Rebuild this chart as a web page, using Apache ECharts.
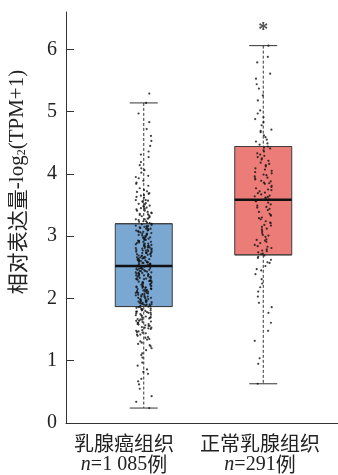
<!DOCTYPE html>
<html>
<head>
<meta charset="utf-8">
<script src="https://cdn.jsdelivr.net/npm/echarts@6/dist/echarts.min.js"></script>
<style>
  html, body { margin: 0; padding: 0; background: #fff; }
  #chart { width: 338px; height: 475px; }
</style>
</head>
<body>
<div id="chart"></div>
<script>
const categories = ['乳腺癌组织', '正常乳腺组织'];
const sampleSizes = ['1 085', '291'];
const yTicks = [0, 1, 2, 3, 4, 5, 6];
// [min, Q1, median, Q3, max]
const tumorBox = [0.24, 1.87, 2.52, 3.2, 5.14];
const normalBox = [0.63, 2.70, 3.585, 4.44, 6.06];
const sigLabel = '*';
const sigValue = 6.3;

// (a sample of them)
const tumorPoints = [
  2.41, 1.96, 3.05, 2.73, 1.52, 2.18, 3.44, 2.66, 1.88, 2.97,
  0.24, 2.35, 3.12, 1.73, 2.58, 4.02, 2.21, 1.64, 2.84, 3.31,
  2.49, 1.37, 2.12, 3.68, 2.77, 1.91, 2.63, 0.86, 3.19, 2.04,
  2.52, 4.61, 1.79, 2.94, 2.27, 3.57, 1.45, 2.69, 3.02, 2.15,
  1.12, 2.38, 3.86, 2.81, 1.98, 2.55, 3.24, 1.68, 2.46, 5.14,
  2.09, 3.11, 1.83, 2.72, 0.62, 2.31, 3.49, 2.6, 1.57, 2.89,
  4.27, 2.19, 1.94, 3.08, 2.43, 1.29, 2.67, 3.36, 2.01, 2.78,
  1.71, 3.93, 2.53, 2.24, 1.47, 3.16, 2.86, 0.97, 2.39, 3.63,
  2.11, 1.86, 2.98, 2.57, 4.83, 1.61, 2.32, 3.27, 2.7, 2.05,
  1.23, 2.48, 3.74, 2.82, 1.92, 2.61, 3.41, 1.77, 2.26, 0.43,
  2.93, 3.14, 1.54, 2.45, 4.14, 2.16, 2.75, 1.89, 3.52, 2.36,
  1.05, 2.64, 3.03, 2.2, 1.66, 3.81, 2.51, 2.88, 1.99, 4.45,
  2.13, 3.33, 1.4, 2.74, 2.42, 3.09, 0.71, 1.81, 2.59, 3.47,
  2.28, 1.95, 2.83, 3.71, 1.59, 2.47, 3.2, 2.06, 1.34, 2.68,
  4.06, 2.33, 2.91, 1.76, 3.58, 2.54, 0.79, 2.17, 3.26, 1.9,
  2.79, 1.49, 3.97, 2.4, 2.02, 3.13, 1.69, 2.65, 5.29, 2.3,
  1.17, 2.87, 3.39, 2.22, 1.84, 2.56, 3.66, 1.56, 2.44, 3.0,
  2.1, 4.36, 1.93, 2.76, 1.27, 3.22, 2.5, 2.95, 0.55, 1.74,
  2.37, 3.53, 2.62, 2.08, 1.62, 3.07, 4.72, 2.25, 2.8, 1.87,
  3.43, 2.14, 1.42, 2.71, 3.89, 2.46, 0.92, 1.97, 3.17, 2.58,
  2.03, 1.51, 2.9, 3.62, 2.34, 4.19, 1.8, 2.66, 3.29, 2.19,
  1.2, 2.52, 3.04, 1.72, 2.85, 3.77, 2.29, 0.34, 1.96, 2.6,
  3.35, 2.07, 1.58, 2.73, 4.53, 2.41, 3.1, 1.85, 2.97, 1.31,
  2.23, 3.48, 2.63, 1.67, 2.12, 3.95, 2.78, 1.09, 2.35, 3.23,
  1.9, 2.55, 4.31, 2.0, 1.46, 2.84, 3.55, 2.27, 0.67, 1.78,
  2.69, 3.15, 2.44, 1.63, 3.84, 2.18, 2.92, 1.38, 2.57, 4.97,
  2.09, 3.38, 1.82, 2.76, 2.31, 1.53, 3.06, 2.49, 0.82, 3.69,
  2.15, 1.94, 2.81, 3.28, 4.09, 1.7, 2.38, 2.65, 1.25, 3.45,
  2.44, 1.79, 2.96, 2.21, 3.18, 1.61, 2.58, 3.32, 2.07, 1.93,
  2.68, 3.09, 1.44, 2.36, 2.82, 3.56, 1.86, 2.13, 2.74, 3.01,
  1.99, 2.47, 3.41, 1.66, 2.29, 2.91, 1.35, 2.62, 3.24, 2.05,
  2.53, 1.73, 3.12, 2.39, 2.87, 1.9, 3.65, 2.17, 2.71, 1.56,
  2.26, 3.37, 2.01, 2.59, 1.81, 2.94, 3.14, 2.33, 1.48, 2.77,
  3.02, 2.11, 2.64, 1.95, 3.46, 2.42, 1.69, 2.85, 2.19, 3.27,
  1.88, 2.56, 3.07, 2.28, 1.59, 2.73, 3.58, 2.03, 2.48, 1.77,
  2.92, 2.37, 3.21, 1.97, 2.66, 1.42, 3.11, 2.24, 2.8, 2.09,
  3.72, 1.83, 2.51, 3.34, 2.16, 1.64, 2.99, 2.4, 3.16, 1.91,
  2.61, 2.14, 1.53, 3.04, 2.88, 2.32, 3.51, 1.75, 2.55, 2.98
];
const normalPoints = [
  3.58, 4.12, 2.86, 3.94, 4.67, 3.21, 2.74, 4.38, 3.65, 5.02,
  2.93, 3.77, 4.21, 3.08, 1.86, 3.49, 4.55, 2.71, 3.86, 5.37,
  3.33, 4.03, 2.52, 3.69, 4.44, 3.15, 0.63, 3.98, 2.81, 4.78,
  3.54, 2.39, 4.29, 3.72, 5.61, 3.02, 4.16, 2.94, 3.61, 1.32,
  4.49, 3.27, 3.88, 2.67, 4.91, 3.44, 2.18, 4.07, 3.56, 6.06,
  2.77, 3.81, 4.33, 3.12, 2.45, 4.62, 3.39, 1.61, 3.91, 2.99,
  5.18, 3.63, 4.25, 2.84, 3.47, 4.71, 2.31, 3.75, 4.09, 3.18,
  1.04, 4.41, 2.72, 3.59, 5.44, 3.24, 3.96, 2.58, 4.18, 3.51,
  2.11, 4.83, 3.36, 2.89, 3.84, 4.52, 1.77, 3.05, 4.01, 5.79,
  2.76, 3.67, 4.36, 3.29, 2.62, 3.93, 4.59, 2.03, 3.42, 3.11,
  4.97, 2.95, 3.79, 4.23, 1.48, 3.57, 2.69, 4.47, 3.22, 5.26,
  3.85, 2.47, 4.14, 3.64, 2.83, 4.69, 3.34, 0.95, 3.99, 2.57,
  4.31, 3.7, 5.53, 3.01, 2.24, 4.05, 3.46, 2.79, 3.89, 4.42,
  1.93, 3.17, 4.88, 3.62, 2.65, 5.88, 3.3, 4.27, 2.91, 3.74
];
// horizontal jitter of the dots, as a share of the spread
const jitter = [
  -0.62, 0.35, 0.91, -0.18, 0.54, -0.87, 0.12, -0.41, 0.77, -0.05,
  0.66, -0.73, 0.28, -0.95, 0.47, -0.29, 0.83, -0.56, 0.03, 0.71,
  -0.34, 0.19, -0.81, 0.58, -0.12, 0.94, -0.67, 0.39, -0.23, 0.08,
  -0.48, 0.86, -0.9, 0.24, -0.6, 0.51, -0.15
];

const boxColors = ['#7ba7d3', '#ec7c78'];
const serif = 'Liberation Serif';
const cjk = 'Noto Sans CJK SC';

const chart = echarts.init(document.getElementById('chart'), null, { renderer: 'canvas' });

const boxes = [tumorBox, normalBox];
const dots = [
  ...tumorPoints.map((v, i) => [0 + jitter[i % jitter.length] * 0.07, v]),
  ...normalPoints.map((v, i) => [1 + jitter[(i + 11) % jitter.length] * 0.075, v])
];

const option = {
  animation: false,
  grid: [
    { left: 66, right: 0, top: 12, bottom: 52 },   // axes
    { left: 84, right: 15, top: 12, bottom: 52 }   // boxes and dots
  ],
  xAxis: [
    {
      gridIndex: 0,
      type: 'category',
      data: categories,
      axisLine: { lineStyle: { color: '#333', width: 1 } },
      axisTick: { show: false },
      axisLabel: {
        interval: 0,
        margin: 10,
        padding: [0, 20, 0, 0],
        color: '#222',
        formatter: function (v, i) {
          return '{a|' + v + '}\n{n|n}{m|=' + sampleSizes[i] + '}{a|例}';
        },
        rich: {
          a: { fontFamily: cjk, fontSize: 20, lineHeight: 21, color: '#222' },
          n: { fontFamily: serif, fontStyle: 'italic', fontSize: 20, lineHeight: 21, color: '#222' },
          m: { fontFamily: serif, fontSize: 20, lineHeight: 21, color: '#222' }
        }
      }
    },
    { gridIndex: 1, type: 'category', data: categories, show: false },
    { gridIndex: 1, type: 'value', min: -0.5, max: 1.5, show: false }
  ],
  yAxis: [
    {
      gridIndex: 0,
      type: 'value',
      min: 0,
      max: 6.6,
      interval: 1,
      splitLine: { show: false },
      axisLine: { show: true, lineStyle: { color: '#333', width: 1 } },
      axisTick: { show: true, inside: true, length: 8, customValues: yTicks, lineStyle: { color: '#333' } },
      axisLabel: {
        customValues: yTicks,
        margin: 9,
        fontFamily: serif,
        fontSize: 20,
        color: '#222'
      }
    },
    { gridIndex: 1, type: 'value', min: 0, max: 6.6, show: false }
  ],
  graphic: [
    {
      type: 'text',
      x: 17,
      y: 182,
      rotation: Math.PI / 2,
      style: {
        text: '{a|相对表达量}{b|-log}{s|2}{b|(TPM+1)}',
        align: 'center',
        verticalAlign: 'middle',
        rich: {
          a: { fontFamily: cjk, fontSize: 21, fill: '#222' },
          b: { fontFamily: serif, fontSize: 21, fill: '#222' },
          s: { fontFamily: serif, fontSize: 12, fill: '#222', padding: [10, 0, 0, 0] }
        }
      }
    }
  ],
  series: [
    {
      // whiskers and caps
      type: 'custom',
      xAxisIndex: 1,
      yAxisIndex: 1,
      z: 1,
      silent: true,
      data: boxes.map((b, i) => [i, ...b]),
      encode: { x: 0, y: [1, 2, 3, 4, 5] },
      renderItem: function (params, api) {
        const c = api.value(0);
        const lo = api.coord([c, api.value(1)]);
        const q1 = api.coord([c, api.value(2)]);
        const q3 = api.coord([c, api.value(4)]);
        const hi = api.coord([c, api.value(5)]);
        const half = 14;
        const dash = { stroke: '#333', lineWidth: 1, lineDash: [3, 2] };
        const solid = { stroke: '#333', lineWidth: 1 };
        return {
          type: 'group',
          children: [
            { type: 'line', shape: { x1: hi[0], y1: hi[1], x2: q3[0], y2: q3[1] }, style: dash },
            { type: 'line', shape: { x1: q1[0], y1: q1[1], x2: lo[0], y2: lo[1] }, style: dash },
            { type: 'line', shape: { x1: hi[0] - half, y1: hi[1], x2: hi[0] + half, y2: hi[1] }, style: solid },
            { type: 'line', shape: { x1: lo[0] - half, y1: lo[1], x2: lo[0] + half, y2: lo[1] }, style: solid }
          ]
        };
      }
    },
    {
      // boxes Q1..Q3
      type: 'boxplot',
      xAxisIndex: 1,
      yAxisIndex: 1,
      z: 2,
      boxWidth: [57, 57],
      silent: true,
      data: boxes.map((b, i) => ({
        value: [b[1], b[1], b[2], b[3], b[3]],
        itemStyle: { color: boxColors[i] }
      })),
      itemStyle: { borderColor: '#3c3c3c', borderWidth: 1 }
    },
    {
      type: 'scatter',
      xAxisIndex: 2,
      yAxisIndex: 1,
      z: 3,
      symbol: 'circle',
      symbolSize: 2.2,
      silent: true,
      itemStyle: { color: '#111' },
      data: dots
    },
    {
      // thick median line
      type: 'custom',
      xAxisIndex: 1,
      yAxisIndex: 1,
      z: 4,
      silent: true,
      data: boxes.map((b, i) => [i, b[2]]),
      encode: { x: 0, y: 1 },
      renderItem: function (params, api) {
        const p = api.coord([api.value(0), api.value(1)]);
        const half = 28.5;
        return {
          type: 'line',
          shape: { x1: p[0] - half, y1: p[1], x2: p[0] + half, y2: p[1] },
          style: { stroke: '#111', lineWidth: 2.6 }
        };
      }
    },
    {
      type: 'scatter',
      xAxisIndex: 1,
      yAxisIndex: 1,
      z: 5,
      symbolSize: 0,
      silent: true,
      data: [[1, sigValue]],
      label: {
        show: true,
        position: 'inside',
        formatter: sigLabel,
        fontFamily: serif,
        fontSize: 20,
        fontWeight: 'bold',
        color: '#222'
      }
    }
  ]
};
chart.setOption(option);
</script>
</body>
</html>
